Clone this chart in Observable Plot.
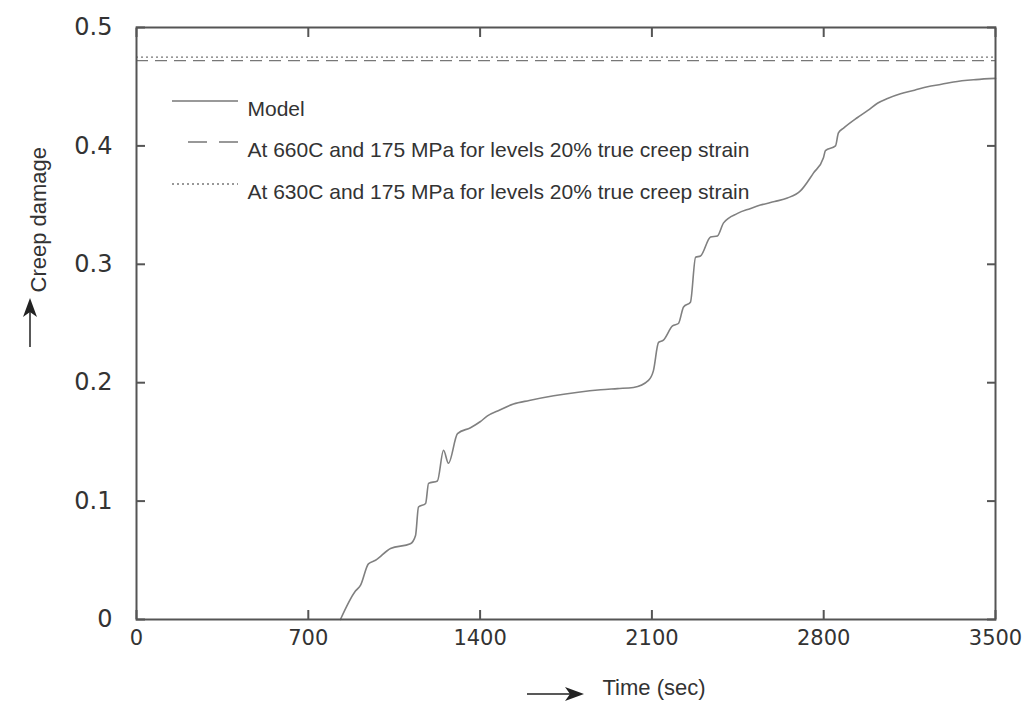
<!DOCTYPE html>
<html><head><meta charset="utf-8">
<script src="https://cdn.jsdelivr.net/npm/d3@7"></script>
<script src="https://cdn.jsdelivr.net/npm/@observablehq/plot@0.6"></script>
<style>body{margin:0;background:#fff}</style>
</head><body><div id="chart"></div>
<script>
// Model curve: time (sec) and creep damage
const time   = [831, 892, 913, 945, 974, 1035, 1116, 1137, 1149, 1178, 1190, 1226, 1251, 1271, 1308, 1361, 1400, 1430, 1480, 1536, 1600, 1700, 1800, 1891, 1960, 2025, 2086, 2106, 2127, 2147, 2184, 2208, 2229, 2257, 2278, 2298, 2339, 2367, 2392, 2449, 2500, 2542, 2600, 2652, 2705, 2758, 2799, 2807, 2848, 2860, 2881, 2938, 2980, 3019, 3060, 3113, 3170, 3223, 3280, 3329, 3420, 3500];
const damage = [0, 0.024, 0.029, 0.047, 0.050, 0.060, 0.064, 0.071, 0.095, 0.098, 0.115, 0.117, 0.143, 0.132, 0.157, 0.162, 0.167, 0.172, 0.177, 0.182, 0.185, 0.189, 0.192, 0.194, 0.195, 0.196, 0.202, 0.210, 0.234, 0.236, 0.248, 0.250, 0.264, 0.268, 0.306, 0.307, 0.323, 0.324, 0.335, 0.343, 0.347, 0.350, 0.353, 0.356, 0.362, 0.377, 0.390, 0.396, 0.400, 0.411, 0.415, 0.424, 0.430, 0.436, 0.440, 0.444, 0.447, 0.450, 0.452, 0.454, 0.456, 0.457];
// Experimental levels
const level660 = 0.472;
const level630 = 0.475;
const legendLabels = ["Model", "At 660C and 175 MPa for levels 20% true creep strain", "At 630C and 175 MPa for levels 20% true creep strain"];
const xTicks = [0, 700, 1400, 2100, 2800, 3500];
const yTicks = [0, 0.1, 0.2, 0.3, 0.4, 0.5];
const xLabel = "Time (sec)";
const yLabel = "Creep damage";

const data = time.map((t, i) => ({t, d: damage[i]}));
const ink = "#333";
const lf = {fontFamily: "Liberation Sans, Arial, sans-serif", fontSize: 21, fill: ink, textAnchor: "start", frameAnchor: "top-left"};

const chart = Plot.plot({
  width: 1031, height: 711,
  marginLeft: 136, marginRight: 36, marginTop: 27, marginBottom: 92,
  style: {fontFamily: "DejaVu Sans, sans-serif", background: "#fff", color: ink},
  x: {domain: [0, 3500]},
  y: {domain: [0, 0.5]},
  marks: [
    Plot.ruleY([level660], {stroke: "#777", strokeWidth: 1.3, strokeDasharray: "12,7"}),
    Plot.ruleY([level630], {stroke: "#777", strokeWidth: 1.3, strokeDasharray: "2,3"}),
    Plot.line(data, {x: "t", y: "d", stroke: "#808080", strokeWidth: 1.6, curve: "monotone-x"}),
    Plot.frame({stroke: "#555", strokeWidth: 2}),
    Plot.axisX({ticks: xTicks, tickSize: -9, tickPadding: 20, strokeWidth: 2, stroke: "#555", fontSize: 21, label: null, tickFormat: d => String(d)}),
    Plot.axisX({anchor: "top", ticks: xTicks, tickSize: -9, strokeWidth: 2, stroke: "#555", label: null, tickFormat: () => ""}),
    Plot.axisY({ticks: yTicks, tickSize: -9, tickPadding: 33, strokeWidth: 2, stroke: "#555", fontSize: 24, label: null, tickFormat: d => d === 0 ? "0" : d.toFixed(1)}),
    Plot.axisY({anchor: "right", ticks: yTicks, tickSize: -9, strokeWidth: 2, stroke: "#555", label: null, tickFormat: () => ""}),
    Plot.text([legendLabels[0]], {...lf, dx: 111, dy: 74}),
    Plot.text([legendLabels[1]], {...lf, dx: 111, dy: 115}),
    Plot.text([legendLabels[2]], {...lf, dx: 111, dy: 157}),
    Plot.text([xLabel], {frameAnchor: "bottom-left", dx: 466, dy: 75, textAnchor: "start", fontSize: 22, fontFamily: "Liberation Sans, Arial, sans-serif", fill: ink}),
    Plot.text([yLabel], {frameAnchor: "top-left", dx: -106, dy: 265, rotate: -90, textAnchor: "start", fontSize: 22, fontFamily: "Liberation Sans, Arial, sans-serif", fill: ink})
  ]
});
document.getElementById("chart").appendChild(chart);

// legend samples and axis-label arrows (decorations)
const svg = d3.select(chart);
const g = svg.append("g").attr("stroke", "#777").attr("stroke-width", 1.4);
g.append("line").attr("x1", 172).attr("x2", 238).attr("y1", 101).attr("y2", 101);
g.append("line").attr("x1", 188).attr("x2", 238).attr("y1", 142).attr("y2", 142).attr("stroke-dasharray", "19,12");
g.append("line").attr("x1", 172).attr("x2", 238).attr("y1", 184).attr("y2", 184).attr("stroke-dasharray", "2,3");
const a = svg.append("g").attr("stroke", "#222").attr("fill", "#222");
a.append("line").attr("x1", 527).attr("x2", 572).attr("y1", 694).attr("y2", 694).attr("stroke-width", 1.5);
a.append("path").attr("d", "M584,694 L565,687 L570,694 L565,701 Z").attr("stroke", "none");
a.append("line").attr("x1", 30).attr("x2", 30).attr("y1", 347).attr("y2", 310).attr("stroke-width", 1.5);
a.append("path").attr("d", "M30,298 L23,317 L30,312 L37,317 Z").attr("stroke", "none");
</script>
</body></html>
